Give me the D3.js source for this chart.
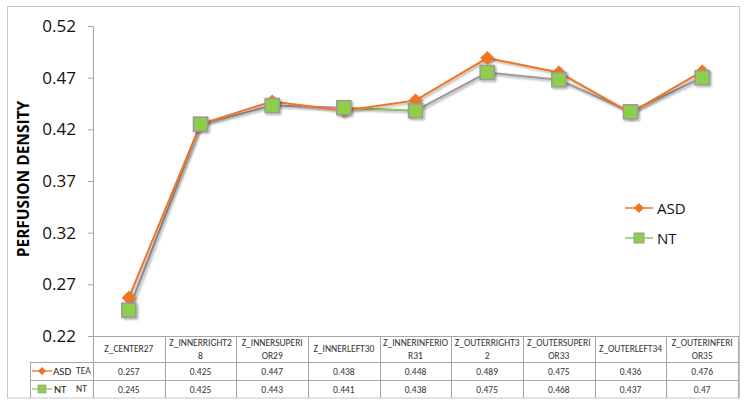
<!DOCTYPE html>
<html>
<head>
<meta charset="utf-8">
<script src="https://cdn.jsdelivr.net/npm/d3@7"></script>
<style>
  body { margin: 0; background: #fff; }
  svg { display: block; font-family: Calibri, Carlito, "Liberation Sans", "Open Sans", sans-serif; }
</style>
</head>
<body>
<svg id="chart" width="748" height="406"></svg>
<script>
// data
const categories = ['Z_CENTER27', 'Z_INNERRIGHT28', 'Z_INNERSUPERIOR29', 'Z_INNERLEFT30', 'Z_INNERINFERIOR31',
  'Z_OUTERRIGHT32', 'Z_OUTERSUPERIOR33', 'Z_OUTERLEFT34', 'Z_OUTERINFERIOR35'];
// how the header cells wrap in the table
const headerLines = [['Z_CENTER27'], ['Z_INNERRIGHT2', '8'], ['Z_INNERSUPERI', 'OR29'], ['Z_INNERLEFT30'],
  ['Z_INNERINFERIO', 'R31'], ['Z_OUTERRIGHT3', '2'], ['Z_OUTERSUPERI', 'OR33'], ['Z_OUTERLEFT34'], ['Z_OUTERINFERI', 'OR35']];
const asd = [0.257, 0.425, 0.447, 0.438, 0.448, 0.489, 0.475, 0.436, 0.476];
const nt = [0.245, 0.425, 0.443, 0.441, 0.438, 0.475, 0.468, 0.437, 0.47];
const asdLabels = ['0.257', '0.425', '0.447', '0.438', '0.448', '0.489', '0.475', '0.436', '0.476'];
const ntLabels = ['0.245', '0.425', '0.443', '0.441', '0.438', '0.475', '0.468', '0.437', '0.47'];
const yTicks = [0.22, 0.27, 0.32, 0.37, 0.42, 0.47, 0.52];

const svg = d3.select('#chart');
const orange = '#f07522', green = '#8dcf4a', grey = '#9a9a9a';

const plotLeft = 93, plotRight = 738, plotTop = 26, plotBottom = 336;
const x = d3.scaleBand().domain(categories).range([plotLeft, plotRight]);
const y = d3.scaleLinear().domain([0.22, 0.52]).range([plotBottom, plotTop]);

// drop shadow like the office chart
const defs = svg.append('defs');
const f = defs.append('filter').attr('id', 'shadow').attr('x', '-50%').attr('y', '-50%').attr('width', '200%').attr('height', '200%');
f.append('feDropShadow').attr('dx', 1.5).attr('dy', 1.5).attr('stdDeviation', 1.2)
  .attr('flood-color', '#000').attr('flood-opacity', 0.35);

// outer border
svg.append('rect').attr('x', 7.5).attr('y', 6.5).attr('width', 732).attr('height', 391.5)
  .attr('fill', 'none').attr('stroke', '#c8c8c8');

// y axis
const yAxis = svg.append('g').attr('transform', `translate(${plotLeft},0)`)
  .call(d3.axisLeft(y).tickValues(yTicks).tickFormat(d3.format('.2f')).tickSize(5).tickPadding(12));
yAxis.select('.domain').attr('stroke', '#a6a6a6');
yAxis.selectAll('.tick line').attr('stroke', '#a6a6a6');
yAxis.selectAll('.tick text').attr('font-size', 17).attr('fill', '#111')
  .attr('font-family', '"Open Sans", "Liberation Sans", sans-serif');

svg.append('text')
  .attr('transform', `translate(29,${(plotTop + plotBottom) / 2 - 2}) rotate(-90)`)
  .attr('text-anchor', 'middle')
  .attr('font-size', 15.5).attr('font-weight', 'bold')
  .attr('font-family', '"Open Sans", "Liberation Sans", sans-serif')
  .text('PERFUSION DENSITY');

// data table
const rowTop = plotBottom, hdrBottom = 362, row2 = 380, tableBottom = 398, keyLeft = 30;
const tg = svg.append('g').attr('stroke', '#a6a6a6').attr('fill', 'none');
tg.append('line').attr('x1', plotLeft).attr('x2', plotRight).attr('y1', rowTop + 0.5).attr('y2', rowTop + 0.5);
[hdrBottom, row2].forEach(v => tg.append('line').attr('x1', keyLeft).attr('x2', plotRight).attr('y1', v + 0.5).attr('y2', v + 0.5));
tg.append('line').attr('x1', keyLeft + 0.5).attr('x2', keyLeft + 0.5).attr('y1', hdrBottom).attr('y2', tableBottom);
tg.append('line').attr('x1', plotLeft + 0.5).attr('x2', plotLeft + 0.5).attr('y1', rowTop).attr('y2', tableBottom);
categories.forEach(c => {
  const xr = Math.round(x(c) + x.bandwidth()) + 0.5;
  tg.append('line').attr('x1', xr).attr('x2', xr).attr('y1', rowTop).attr('y2', tableBottom);
});

const cellText = svg.append('g').attr('font-size', 9.5).attr('fill', '#333').attr('text-anchor', 'middle');
categories.forEach((c, i) => {
  const cx = x(c) + x.bandwidth() / 2;
  const lines = headerLines[i];
  const y0 = lines.length === 1 ? 352 : 346;
  lines.forEach((t, j) => cellText.append('text').attr('x', cx).attr('y', y0 + j * 12.5).text(t));
  cellText.append('text').attr('x', cx).attr('y', 374.5).text(asdLabels[i]);
  cellText.append('text').attr('x', cx).attr('y', 392.5).text(ntLabels[i]);
});

// series keys inside the table
const keys = svg.append('g');
function diamond(sel, cx, cy, r) {
  sel.append('path').attr('d', `M${cx},${cy - r}L${cx + r},${cy}L${cx},${cy + r}L${cx - r},${cy}Z`).attr('fill', orange);
}
keys.append('line').attr('x1', 32).attr('x2', 52).attr('y1', 371).attr('y2', 371).attr('stroke', orange).attr('stroke-width', 1.3);
diamond(keys, 42, 371, 4);
keys.append('text').attr('x', 53).attr('y', 375).attr('font-size', 11).attr('fill', '#222').text('ASD');
keys.append('text').attr('x', 76).attr('y', 374).attr('font-size', 9.5).attr('fill', '#333').text('TEA');
keys.append('line').attr('x1', 32).attr('x2', 52).attr('y1', 389).attr('y2', 389).attr('stroke', green).attr('stroke-width', 1.3);
keys.append('rect').attr('x', 38).attr('y', 385).attr('width', 8).attr('height', 8).attr('fill', green).attr('stroke', grey).attr('stroke-width', 0.7);
keys.append('text').attr('x', 54).attr('y', 393).attr('font-size', 11).attr('fill', '#222').text('NT');
keys.append('text').attr('x', 76).attr('y', 392).attr('font-size', 9.5).attr('fill', '#333').text('NT');

// lines
const cxOf = (d, i) => x(categories[i]) + x.bandwidth() / 2;
const line = d3.line().x(cxOf).y(d => y(d));
svg.append('path').datum(nt).attr('d', line).attr('fill', 'none')
  .attr('stroke', grey).attr('stroke-width', 2).attr('filter', 'url(#shadow)');
// the one segment where the green line shows through
svg.append('path').datum(nt.slice(3, 5))
  .attr('d', d3.line().x((d, i) => cxOf(d, i + 3)).y(d => y(d)))
  .attr('fill', 'none').attr('stroke', green).attr('stroke-width', 1.5);
svg.append('path').datum(asd).attr('d', line).attr('fill', 'none')
  .attr('stroke', orange).attr('stroke-width', 2).attr('filter', 'url(#shadow)');

// markers
const dm = 7;
svg.append('g').attr('filter', 'url(#shadow)').selectAll('path').data(asd).join('path')
  .attr('d', (d, i) => {
    const cx = cxOf(d, i), cy = y(d);
    return `M${cx},${cy - dm}L${cx + dm},${cy}L${cx},${cy + dm}L${cx - dm},${cy}Z`;
  })
  .attr('fill', orange);
const sq = 14;
svg.append('g').attr('filter', 'url(#shadow)').selectAll('rect').data(nt).join('rect')
  .attr('x', (d, i) => cxOf(d, i) - sq / 2).attr('y', d => y(d) - sq / 2)
  .attr('width', sq).attr('height', sq)
  .attr('fill', green).attr('stroke', grey).attr('stroke-width', 1.5);

// legend
const lg = svg.append('g').attr('font-size', 15).attr('fill', '#111')
  .attr('font-family', '"Open Sans", "Liberation Sans", sans-serif');
lg.append('line').attr('x1', 625).attr('x2', 653).attr('y1', 208).attr('y2', 208).attr('stroke', orange).attr('stroke-width', 1.5);
diamond(lg, 639, 208, 5);
lg.append('text').attr('x', 657).attr('y', 213.5).text('ASD');
lg.append('line').attr('x1', 625).attr('x2', 653).attr('y1', 238).attr('y2', 238).attr('stroke', green).attr('stroke-width', 1.5);
lg.append('rect').attr('x', 634).attr('y', 233).attr('width', 10).attr('height', 10).attr('fill', green).attr('stroke', grey).attr('stroke-width', 1);
lg.append('text').attr('x', 657).attr('y', 243.5).text('NT');
</script>
</body>
</html>
